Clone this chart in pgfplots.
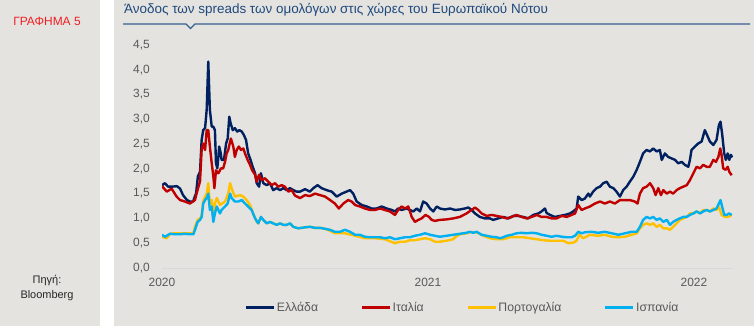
\documentclass[border=0pt]{standalone}
\usepackage{pgfplots}
\pgfplotsset{compat=1.18}
\usepackage{fontspec}
\setmainfont{Liberation Sans}
\definecolor{panel}{RGB}{228,227,223}
\definecolor{grafred}{RGB}{240,30,35}
\definecolor{titleblue}{RGB}{31,73,125}
\definecolor{titleline}{RGB}{54,96,146}
\definecolor{tickgray}{RGB}{89,89,89}
\definecolor{gr}{RGB}{0,32,96}
\definecolor{it}{RGB}{192,0,0}
\definecolor{pt}{RGB}{255,192,0}
\definecolor{es}{RGB}{0,176,240}
\begin{document}
\begin{tikzpicture}
\path[use as bounding box] (0,0) rectangle (754bp,-326bp);
\fill[white] (0,0) rectangle (754bp,-326bp);
\fill[panel] (0,0) rectangle (100bp,-326bp);
\fill[panel] (114bp,0) rectangle (754bp,-326bp);
\node[text=grafred, font=\fontsize{12}{13}\selectfont] at (47bp,-21bp) {ΓΡΑΦΗΜΑ 5};
\node[align=center, text=black!85, font=\fontsize{11}{15}\selectfont] at (47bp,-288bp) {Πηγή:\\Bloomberg};
\node[anchor=base west, inner sep=0pt, text=titleblue, font=\fontsize{13.5}{15}\selectfont] at (124bp,-13bp) {Άνοδος των spreads των ομολόγων στις χώρες του Ευρωπαϊκού Νότου};
\draw[titleline, line width=1.3bp] (123bp,-24bp) -- (186bp,-24bp) -- (190.5bp,-28.5bp) -- (195bp,-24bp) -- (750bp,-24bp);
\begin{axis}[
  at={(162bp,-268bp)}, anchor=south west, scale only axis,
  width=571bp, height=223.2bp,
  xmin=0, xmax=2.147, ymin=0, ymax=4.5,
  axis x line*=bottom, axis y line*=left,
  x axis line style={draw=black!15, line width=0.8bp, -},
  y axis line style={draw=none},
  xtick={0,1,2}, xticklabels={2020,2021,2022},
  ytick={0,0.5,1,1.5,2,2.5,3,3.5,4,4.5},
  major tick length=0pt, tick style={draw=none},
  /pgf/number format/assume math mode=true,
  tick label style={font=\fontsize{12}{14}\selectfont, text=tickgray},
  yticklabel style={inner sep=0pt, anchor=east, xshift=-12bp,
    /pgf/number format/fixed, /pgf/number format/fixed zerofill,
    /pgf/number format/precision=1, /pgf/number format/use comma},
  xticklabel style={inner sep=0pt, anchor=north, yshift=-10bp},
  legend columns=4,
  legend style={at={(0.526,-0.178)}, anchor=center, draw=none, fill=none,
    font=\fontsize{12.3}{14}\selectfont, text=tickgray, inner sep=0pt,
    nodes={inner sep=1.5bp},
    /tikz/every even column/.append style={column sep=41bp}},
  legend image code/.code={\draw[#1, line width=2.6bp] (0bp,0bp) -- (28bp,0bp);},
  every axis plot/.append style={line width=2.4bp, line join=round},
]
\addplot[gr] coordinates {(0,1.67)(0.011,1.71)(0.023,1.64)(0.038,1.64)(0.056,1.65)(0.068,1.60)(0.079,1.47)(0.094,1.37)(0.105,1.34)(0.117,1.34)(0.124,1.45)(0.128,1.50)(0.135,1.85)(0.143,1.94)(0.149,2.58)(0.155,2.78)(0.162,2.82)(0.168,3.19)(0.174,4.16)(0.180,3.19)(0.187,2.85)(0.193,2.85)(0.199,2.78)(0.203,2.11)(0.208,2.01)(0.212,2.24)(0.215,2.45)(0.221,2.31)(0.224,2.18)(0.233,2.18)(0.241,2.51)(0.247,2.61)(0.253,3.05)(0.258,2.92)(0.266,2.78)(0.274,2.82)(0.283,2.75)(0.291,2.78)(0.300,2.75)(0.308,2.68)(0.316,2.58)(0.324,2.31)(0.333,2.18)(0.341,2.04)(0.350,1.91)(0.356,1.71)(0.365,1.64)(0.372,1.91)(0.381,1.71)(0.394,1.67)(0.406,1.71)(0.418,1.57)(0.431,1.61)(0.444,1.57)(0.456,1.61)(0.469,1.57)(0.481,1.61)(0.494,1.57)(0.506,1.54)(0.519,1.54)(0.538,1.59)(0.556,1.54)(0.569,1.61)(0.585,1.67)(0.600,1.61)(0.619,1.57)(0.638,1.54)(0.657,1.44)(0.676,1.50)(0.694,1.54)(0.707,1.57)(0.719,1.50)(0.732,1.34)(0.751,1.27)(0.770,1.24)(0.788,1.20)(0.807,1.20)(0.826,1.24)(0.845,1.20)(0.864,1.17)(0.876,1.14)(0.888,1.20)(0.901,1.17)(0.920,1.20)(0.932,1.17)(0.945,1.14)(0.958,1.20)(0.970,1.14)(0.982,1.34)(0.995,1.30)(1.008,1.20)(1.020,1.14)(1.033,1.24)(1.045,1.20)(1.064,1.18)(1.083,1.20)(1.102,1.17)(1.120,1.18)(1.139,1.20)(1.152,1.22)(1.164,1.17)(1.177,1.10)(1.195,1.03)(1.214,1.00)(1.233,1.00)(1.245,0.97)(1.264,1.00)(1.283,1.03)(1.302,1.00)(1.321,1.05)(1.339,1.05)(1.358,1.03)(1.377,1.00)(1.396,1.07)(1.415,1.10)(1.427,1.14)(1.440,1.20)(1.446,1.11)(1.459,1.07)(1.477,1.03)(1.496,1.05)(1.515,1.07)(1.534,1.10)(1.546,1.14)(1.559,1.20)(1.565,1.44)(1.578,1.37)(1.590,1.40)(1.603,1.50)(1.609,1.44)(1.621,1.54)(1.634,1.61)(1.647,1.64)(1.659,1.71)(1.672,1.74)(1.684,1.64)(1.697,1.61)(1.709,1.54)(1.722,1.44)(1.734,1.57)(1.747,1.64)(1.759,1.74)(1.772,1.84)(1.785,1.98)(1.797,2.14)(1.809,2.31)(1.822,2.38)(1.835,2.35)(1.847,2.41)(1.860,2.35)(1.872,2.38)(1.879,2.18)(1.891,2.31)(1.903,2.24)(1.916,2.21)(1.929,2.18)(1.941,2.11)(1.954,2.14)(1.966,2.08)(1.979,2.04)(1.985,2.18)(1.991,2.38)(2.004,2.45)(2.016,2.51)(2.029,2.55)(2.041,2.78)(2.052,2.65)(2.060,2.55)(2.073,2.48)(2.085,2.58)(2.094,2.88)(2.100,2.95)(2.106,2.71)(2.114,2.31)(2.120,2.18)(2.127,2.31)(2.133,2.18)(2.139,2.28)(2.144,2.23)};
\addlegendentry{Ελλάδα}
\addplot[it] coordinates {(0,1.65)(0.018,1.54)(0.036,1.60)(0.055,1.44)(0.068,1.37)(0.086,1.34)(0.105,1.30)(0.124,1.37)(0.130,1.50)(0.143,1.75)(0.149,2.38)(0.155,2.51)(0.162,2.38)(0.168,2.78)(0.174,2.78)(0.180,2.45)(0.187,2.11)(0.193,1.85)(0.197,1.61)(0.203,1.97)(0.212,1.91)(0.222,2.01)(0.230,2.01)(0.237,2.14)(0.243,2.31)(0.249,2.38)(0.259,2.61)(0.268,2.45)(0.274,2.24)(0.281,2.38)(0.289,2.45)(0.297,2.38)(0.306,2.41)(0.312,2.31)(0.322,2.18)(0.331,2.08)(0.339,1.97)(0.350,1.88)(0.356,1.74)(0.365,1.88)(0.375,1.77)(0.387,1.81)(0.400,1.74)(0.412,1.67)(0.425,1.71)(0.437,1.64)(0.450,1.67)(0.462,1.64)(0.475,1.54)(0.488,1.57)(0.500,1.46)(0.519,1.41)(0.538,1.47)(0.556,1.45)(0.575,1.50)(0.594,1.47)(0.613,1.44)(0.632,1.37)(0.650,1.30)(0.665,1.20)(0.682,1.30)(0.700,1.37)(0.713,1.34)(0.726,1.27)(0.744,1.24)(0.763,1.20)(0.782,1.17)(0.801,1.17)(0.820,1.20)(0.838,1.17)(0.857,1.14)(0.876,1.07)(0.888,1.17)(0.901,1.24)(0.914,1.20)(0.926,1.24)(0.939,1.03)(0.951,0.93)(0.964,0.97)(0.976,1.00)(0.991,1.07)(1.004,1.03)(1.014,0.97)(1.026,0.95)(1.045,0.97)(1.070,0.98)(1.095,1.00)(1.120,1.03)(1.145,1.10)(1.164,1.17)(1.177,1.22)(1.189,1.17)(1.202,1.10)(1.221,1.05)(1.239,1.07)(1.258,1.05)(1.277,1.03)(1.296,1.00)(1.315,1.03)(1.333,1.07)(1.352,1.03)(1.371,1.00)(1.390,1.03)(1.409,1.07)(1.427,1.03)(1.446,1.03)(1.465,1.00)(1.484,1.00)(1.503,1.05)(1.522,1.03)(1.540,1.07)(1.553,1.10)(1.565,1.27)(1.578,1.17)(1.590,1.20)(1.609,1.24)(1.628,1.30)(1.647,1.34)(1.665,1.30)(1.684,1.34)(1.703,1.30)(1.722,1.37)(1.741,1.37)(1.759,1.37)(1.778,1.34)(1.788,1.30)(1.797,1.50)(1.809,1.61)(1.822,1.64)(1.835,1.71)(1.847,1.61)(1.856,1.47)(1.866,1.61)(1.876,1.47)(1.885,1.57)(1.898,1.50)(1.910,1.54)(1.922,1.50)(1.935,1.57)(1.947,1.61)(1.960,1.64)(1.973,1.67)(1.985,1.77)(1.998,1.91)(2.010,2.04)(2.023,2.01)(2.035,2.08)(2.048,2.04)(2.060,2.04)(2.073,2.18)(2.083,2.14)(2.092,2.24)(2.099,2.41)(2.104,2.28)(2.110,2.01)(2.119,1.98)(2.127,2.04)(2.133,1.94)(2.142,1.87)};
\addlegendentry{Ιταλία}
\addplot[pt] coordinates {(0,0.63)(0.018,0.60)(0.030,0.69)(0.049,0.70)(0.068,0.70)(0.086,0.70)(0.105,0.70)(0.118,0.70)(0.124,0.83)(0.134,0.97)(0.143,1.00)(0.149,1.05)(0.155,1.35)(0.162,1.44)(0.168,1.50)(0.174,1.71)(0.180,1.30)(0.187,1.37)(0.193,1.07)(0.199,1.30)(0.206,1.41)(0.218,1.27)(0.237,1.34)(0.249,1.50)(0.256,1.71)(0.264,1.57)(0.274,1.44)(0.293,1.47)(0.306,1.44)(0.318,1.37)(0.331,1.27)(0.343,1.10)(0.356,0.93)(0.362,0.90)(0.372,1.03)(0.381,0.97)(0.394,0.90)(0.406,0.93)(0.418,0.90)(0.431,0.87)(0.444,0.90)(0.456,0.87)(0.469,0.87)(0.481,0.90)(0.494,0.83)(0.512,0.80)(0.538,0.82)(0.556,0.83)(0.575,0.81)(0.594,0.81)(0.613,0.79)(0.632,0.75)(0.650,0.70)(0.688,0.70)(0.726,0.65)(0.763,0.60)(0.801,0.60)(0.838,0.58)(0.876,0.50)(0.895,0.53)(0.914,0.53)(0.932,0.56)(0.951,0.56)(0.970,0.58)(0.989,0.60)(1.008,0.58)(1.026,0.53)(1.045,0.53)(1.070,0.55)(1.095,0.58)(1.102,0.62)(1.120,0.68)(1.145,0.70)(1.158,0.72)(1.183,0.72)(1.208,0.65)(1.233,0.60)(1.258,0.58)(1.283,0.58)(1.308,0.62)(1.333,0.62)(1.358,0.62)(1.383,0.60)(1.409,0.58)(1.433,0.56)(1.459,0.55)(1.484,0.55)(1.509,0.55)(1.527,0.50)(1.546,0.51)(1.559,0.55)(1.569,0.67)(1.584,0.60)(1.609,0.67)(1.640,0.65)(1.665,0.67)(1.691,0.63)(1.716,0.62)(1.741,0.63)(1.766,0.67)(1.785,0.70)(1.797,0.80)(1.809,0.87)(1.822,0.90)(1.835,0.87)(1.847,0.90)(1.860,0.83)(1.872,0.87)(1.885,0.80)(1.898,0.80)(1.910,0.77)(1.922,0.83)(1.935,0.90)(1.947,0.97)(1.960,1.00)(1.973,1.03)(1.985,1.10)(1.998,1.10)(2.010,1.14)(2.023,1.10)(2.035,1.17)(2.048,1.17)(2.060,1.14)(2.073,1.20)(2.085,1.17)(2.094,1.24)(2.104,1.07)(2.117,1.03)(2.129,1.03)(2.142,1.07)};
\addlegendentry{Πορτογαλία}
\addplot[es] coordinates {(0,0.67)(0.011,0.63)(0.030,0.69)(0.049,0.68)(0.068,0.68)(0.086,0.69)(0.105,0.68)(0.118,0.68)(0.124,0.77)(0.134,0.93)(0.143,0.97)(0.149,1.03)(0.155,1.30)(0.162,1.37)(0.168,1.41)(0.174,1.50)(0.180,1.17)(0.187,1.24)(0.193,0.93)(0.199,1.10)(0.206,1.24)(0.212,1.17)(0.218,1.10)(0.224,1.17)(0.237,1.24)(0.247,1.30)(0.256,1.50)(0.262,1.41)(0.274,1.34)(0.287,1.34)(0.300,1.37)(0.312,1.30)(0.324,1.24)(0.337,1.17)(0.350,1.00)(0.362,0.90)(0.372,1.03)(0.381,0.97)(0.394,0.90)(0.406,0.93)(0.418,0.90)(0.431,0.87)(0.444,0.90)(0.456,0.87)(0.469,0.87)(0.481,0.90)(0.494,0.83)(0.512,0.80)(0.538,0.82)(0.556,0.83)(0.575,0.81)(0.594,0.81)(0.613,0.79)(0.632,0.77)(0.650,0.73)(0.669,0.73)(0.688,0.77)(0.707,0.73)(0.726,0.67)(0.744,0.67)(0.763,0.63)(0.782,0.62)(0.801,0.62)(0.820,0.62)(0.838,0.60)(0.857,0.62)(0.876,0.58)(0.895,0.60)(0.914,0.62)(0.932,0.62)(0.951,0.65)(0.970,0.67)(0.989,0.70)(1.008,0.67)(1.026,0.65)(1.045,0.63)(1.070,0.65)(1.095,0.67)(1.120,0.69)(1.145,0.71)(1.158,0.73)(1.170,0.71)(1.183,0.73)(1.202,0.67)(1.221,0.65)(1.239,0.63)(1.258,0.62)(1.271,0.60)(1.283,0.62)(1.296,0.65)(1.315,0.67)(1.333,0.70)(1.352,0.71)(1.371,0.70)(1.390,0.71)(1.409,0.70)(1.427,0.67)(1.446,0.65)(1.465,0.63)(1.484,0.65)(1.503,0.63)(1.522,0.62)(1.540,0.62)(1.553,0.65)(1.565,0.73)(1.578,0.70)(1.590,0.72)(1.615,0.73)(1.640,0.71)(1.665,0.73)(1.691,0.70)(1.716,0.67)(1.741,0.70)(1.766,0.73)(1.785,0.73)(1.797,0.83)(1.809,0.97)(1.822,1.03)(1.835,1.00)(1.847,1.03)(1.860,0.97)(1.872,1.00)(1.885,0.93)(1.898,0.97)(1.910,0.87)(1.922,0.93)(1.935,0.97)(1.947,1.00)(1.960,1.03)(1.973,1.03)(1.985,1.07)(1.998,1.10)(2.010,1.14)(2.023,1.10)(2.035,1.14)(2.048,1.17)(2.060,1.14)(2.073,1.17)(2.085,1.20)(2.094,1.30)(2.100,1.37)(2.106,1.24)(2.114,1.07)(2.123,1.07)(2.132,1.10)(2.142,1.07)};
\addlegendentry{Ισπανία}
\end{axis}
\end{tikzpicture}
\end{document}
